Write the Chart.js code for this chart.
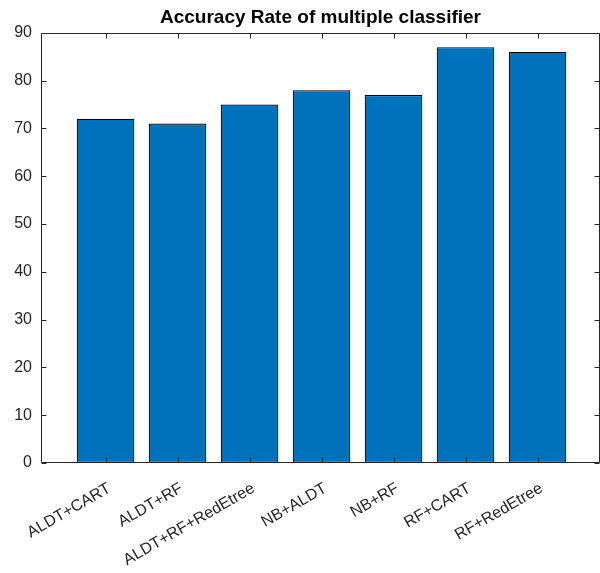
<!DOCTYPE html>
<html>
<head>
<meta charset="utf-8">
<script src="https://cdn.jsdelivr.net/npm/chart.js@4"></script>
<style>
  html, body { margin: 0; padding: 0; background: #fff; overflow: hidden; }
  #wrap { width: 600px; height: 573px; }
</style>
</head>
<body>
<div id="wrap"><canvas id="accChart" width="600" height="573"></canvas></div>
<script>
const classifiers = ['ALDT+CART', 'ALDT+RF', 'ALDT+RF+RedEtree', 'NB+ALDT', 'NB+RF', 'RF+CART', 'RF+RedEtree'];
const accuracy = [72, 71, 75, 78, 77, 87, 86];
const yTicks = [0, 10, 20, 30, 40, 50, 60, 70, 80, 90];

const axisColor = '#262626';

// matlab-style box with inward ticks
const boxTicks = {
  id: 'boxTicks',
  afterDatasetsDraw(chart) {
    const { ctx, chartArea: a, scales: { x, y } } = chart;
    ctx.save();
    ctx.strokeStyle = axisColor;
    ctx.lineWidth = 1;
    ctx.beginPath();
    const L = Math.round(a.left) + 0.5, R = Math.round(a.right) - 0.5;
    const T = Math.round(a.top) + 0.5, B = Math.round(a.bottom) - 0.5;
    ctx.moveTo(L, T); ctx.lineTo(R, T);
    ctx.moveTo(L, B); ctx.lineTo(R, B);
    ctx.moveTo(L, T); ctx.lineTo(L, B);
    ctx.moveTo(R, T); ctx.lineTo(R, B);
    yTicks.forEach(v => {
      const py = Math.round(y.getPixelForValue(v)) + 0.5;
      ctx.moveTo(L, py); ctx.lineTo(L + 5, py);
      ctx.moveTo(R, py); ctx.lineTo(R - 5, py);
    });
    classifiers.forEach((c, i) => {
      const px = Math.round(x.getPixelForValue(i + 1)) + 0.5;
      ctx.moveTo(px, B); ctx.lineTo(px, B - 5);
      ctx.moveTo(px, T); ctx.lineTo(px, T + 5);
    });
    ctx.stroke();
    ctx.restore();
  }
};

new Chart(document.getElementById('accChart'), {
  type: 'bar',
  data: {
    datasets: [{
      data: accuracy.map((v, i) => ({ x: i + 1, y: v })),
      backgroundColor: '#0072BD',
      borderColor: '#000000',
      borderWidth: 1.2,
      borderSkipped: false,
      inflateAmount: 0,
      categoryPercentage: 0.8,
      barPercentage: 1
    }]
  },
  options: {
    responsive: false,
    animation: false,
    devicePixelRatio: 1,
    layout: { padding: { left: 0, right: 0, top: 0, bottom: 0 } },
    scales: {
      x: {
        type: 'linear',
        offset: false,
        min: 0.104,
        max: 7.868,
        grid: { display: false, drawTicks: false, offset: false },
        border: { display: false },
        afterBuildTicks: s => { s.ticks = classifiers.map((c, i) => ({ value: i + 1 })); },
        afterFit: s => { s.height = 110; },
        ticks: {
          autoSkip: false,
          minRotation: 30,
          maxRotation: 30,
          padding: 16,
          labelOffset: 4,
          color: axisColor,
          font: { family: '"Liberation Sans", Arial, sans-serif', size: 16 },
          callback: v => classifiers[v - 1]
        }
      },
      y: {
        min: 0,
        max: 90,
        grid: { display: false, drawTicks: false },
        border: { display: false },
        afterBuildTicks: s => { s.ticks = yTicks.map(v => ({ value: v })); },
        afterFit: s => { s.width = 41; },
        ticks: {
          padding: 9,
          color: axisColor,
          font: { family: '"Liberation Sans", Arial, sans-serif', size: 16 }
        }
      }
    },
    plugins: {
      legend: { display: false },
      tooltip: { enabled: false },
      title: {
        display: true,
        fullSize: false,
        text: 'Accuracy Rate of multiple classifier',
        color: '#000000',
        font: { family: '"Liberation Sans", Arial, sans-serif', size: 19, weight: 'bold' },
        padding: { top: 6, bottom: 4 }
      }
    }
  },
  plugins: [boxTicks]
});
</script>
</body>
</html>
